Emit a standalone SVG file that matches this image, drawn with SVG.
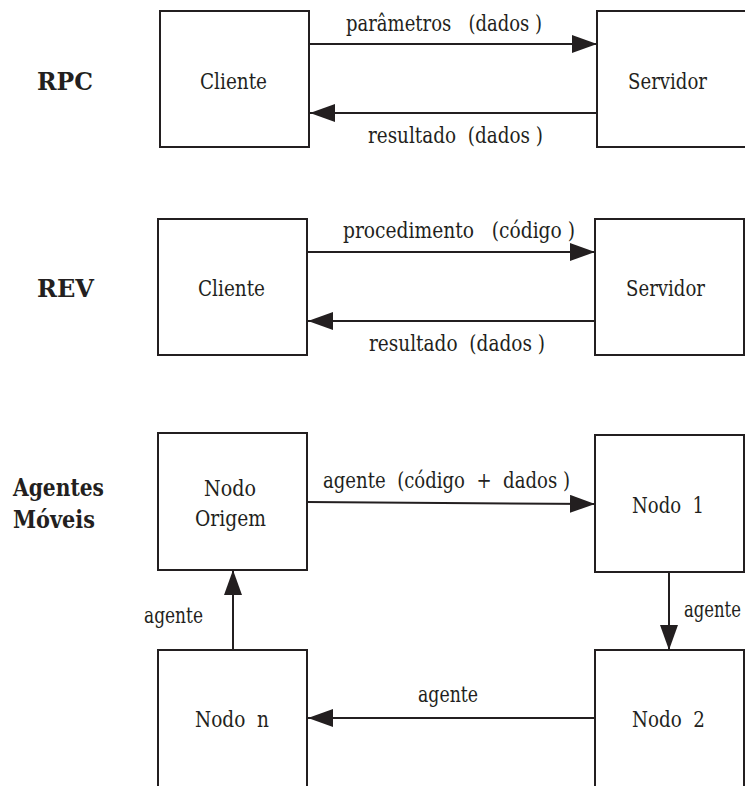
<svg xmlns="http://www.w3.org/2000/svg" width="745" height="786" viewBox="0 0 745 786">
  <style>
    .box { fill: #ffffff; stroke: #231f20; stroke-width: 2; }
    .conn { stroke: #231f20; stroke-width: 2; fill: none; marker-end: url(#arrow); }
    text { font-family: 'DejaVu Serif', 'Liberation Serif', serif; fill: #231f20; }
    .name { font-size: 22px; text-anchor: middle; }
    .lbl { font-size: 21.5px; white-space: pre; }
    .title { font-size: 25px; font-weight: bold; }
  </style>
  <defs>
    <marker id="arrow" markerUnits="userSpaceOnUse" markerWidth="26" markerHeight="18" refX="25" refY="9" orient="auto">
      <path d="M0,0 L25,9 L0,18 z" fill="#231f20"/>
    </marker>
  </defs>

  <!-- section titles -->
  <text class="title" x="37" y="90" textLength="56" lengthAdjust="spacingAndGlyphs">RPC</text>
  <text class="title" x="37" y="297" textLength="57" lengthAdjust="spacingAndGlyphs">REV</text>
  <text class="title" x="13" y="496" textLength="91" lengthAdjust="spacingAndGlyphs">Agentes</text>
  <text class="title" x="13" y="528" textLength="82" lengthAdjust="spacingAndGlyphs">Móveis</text>

  <!-- RPC -->
  <g id="rpc-cliente">
    <rect class="box" x="160" y="11" width="149" height="136"/>
    <text class="name" x="233.5" y="89" textLength="67" lengthAdjust="spacingAndGlyphs">Cliente</text>
  </g>
  <g id="rpc-servidor">
    <rect class="box" x="597" y="11" width="149" height="136"/>
    <text class="name" x="667.5" y="89" textLength="79" lengthAdjust="spacingAndGlyphs">Servidor</text>
  </g>

  <!-- REV -->
  <g id="rev-cliente">
    <rect class="box" x="158" y="219" width="149" height="136"/>
    <text class="name" x="231.5" y="296" textLength="67" lengthAdjust="spacingAndGlyphs">Cliente</text>
  </g>
  <g id="rev-servidor">
    <rect class="box" x="595" y="219" width="149" height="136"/>
    <text class="name" x="665.5" y="296" textLength="79" lengthAdjust="spacingAndGlyphs">Servidor</text>
  </g>

  <!-- Agentes Móveis -->
  <g id="nodo-origem">
    <rect class="box" x="158" y="433" width="149" height="137"/>
    <text class="name" x="230" y="496" textLength="52" lengthAdjust="spacingAndGlyphs">Nodo</text>
    <text class="name" x="230.5" y="526" textLength="71" lengthAdjust="spacingAndGlyphs">Origem</text>
  </g>
  <g id="nodo-1">
    <rect class="box" x="595" y="435" width="149" height="137"/>
    <text class="name" x="668" y="513" xml:space="preserve" textLength="72" lengthAdjust="spacingAndGlyphs">Nodo  1</text>
  </g>
  <g id="nodo-2">
    <rect class="box" x="595" y="650" width="149" height="138"/>
    <text class="name" x="668.5" y="727" xml:space="preserve" textLength="73" lengthAdjust="spacingAndGlyphs">Nodo  2</text>
  </g>
  <g id="nodo-n">
    <rect class="box" x="158" y="650" width="149" height="138"/>
    <text class="name" x="232" y="727" xml:space="preserve" textLength="74" lengthAdjust="spacingAndGlyphs">Nodo  n</text>
  </g>

  <!-- connectors -->
  <g id="connectors">
    <line class="conn" x1="309" y1="44" x2="597" y2="44"/>
    <line class="conn" x1="597" y1="113" x2="310" y2="113"/>
    <line class="conn" x1="307" y1="252" x2="595" y2="252"/>
    <line class="conn" x1="595" y1="321" x2="308" y2="321"/>
    <line class="conn" x1="307" y1="502" x2="595" y2="504"/>
    <line class="conn" x1="669" y1="572" x2="669" y2="650"/>
    <line class="conn" x1="595" y1="718" x2="308" y2="718"/>
    <line class="conn" x1="233" y1="650" x2="233" y2="570"/>

    <text class="lbl" x="346" y="31" xml:space="preserve" textLength="196" lengthAdjust="spacingAndGlyphs">parâmetros   (dados )</text>
    <text class="lbl" x="368" y="143" xml:space="preserve" textLength="175" lengthAdjust="spacingAndGlyphs">resultado  (dados )</text>
    <text class="lbl" x="343" y="238" xml:space="preserve" textLength="232" lengthAdjust="spacingAndGlyphs">procedimento   (código )</text>
    <text class="lbl" x="369" y="351" xml:space="preserve" textLength="176" lengthAdjust="spacingAndGlyphs">resultado  (dados )</text>
    <text class="lbl" x="323" y="488" xml:space="preserve" textLength="247" lengthAdjust="spacingAndGlyphs">agente  (código  +  dados )</text>
    <!-- narrowed so the label stays clear of the right edge -->
    <text class="lbl" transform="translate(684,617) scale(0.78,1)" x="0" y="0" textLength="73" lengthAdjust="spacingAndGlyphs">agente</text>
    <text class="lbl" x="418" y="702" textLength="60" lengthAdjust="spacingAndGlyphs">agente</text>
    <text class="lbl" x="144" y="623" textLength="59" lengthAdjust="spacingAndGlyphs">agente</text>
  </g>
</svg>
